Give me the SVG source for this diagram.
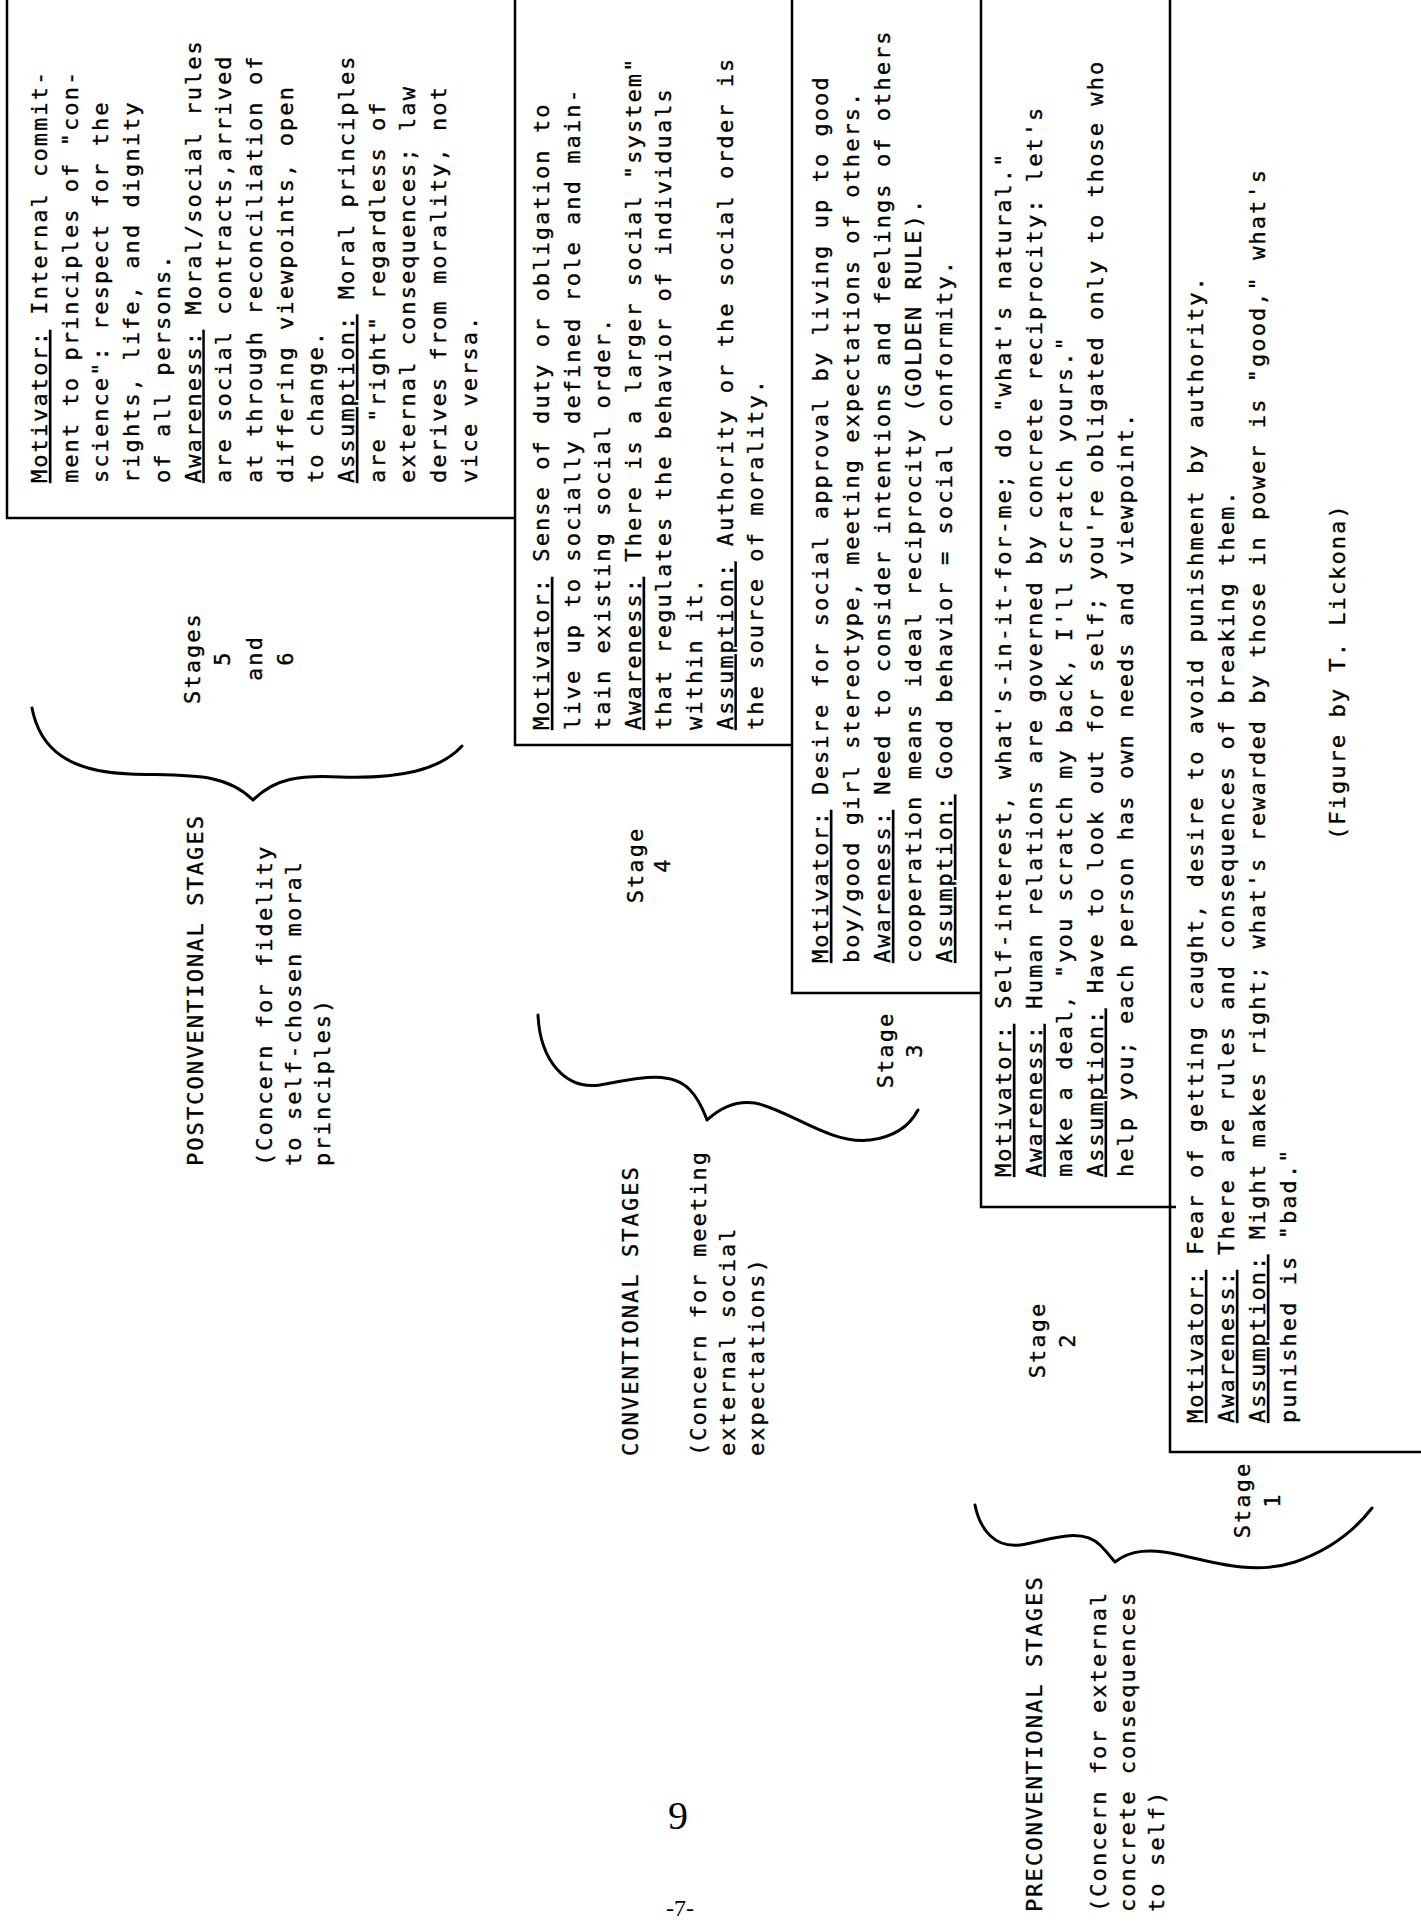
<svg xmlns="http://www.w3.org/2000/svg" width="1421" height="1923" viewBox="0 0 1421 1923" xml:space="preserve">
<style>
.t { font-family: "DejaVu Sans Mono", "Liberation Mono", monospace; font-size: 22px; letter-spacing: 2.06px; fill: #000; stroke: #000; stroke-width: 0.35; }
.m { text-anchor: middle; }
.u { text-decoration: underline; }
.ln { fill: none; stroke: #000; stroke-width: 2.5; }
.br { fill: none; stroke: #000; stroke-width: 3; stroke-linecap: round; stroke-linejoin: round; }
.pg { font-family: "Liberation Serif", serif; fill: #000; text-anchor: middle; }
</style>
<rect width="1421" height="1923" fill="#fff"/>
<g id="frame">
<path class="ln" d="M7 0 V518 H515"/>
<path class="ln" d="M515 0 V745 H792"/>
<path class="ln" d="M792 0 V993 H981"/>
<path class="ln" d="M981 0 V1207 H1176"/>
<path class="ln" d="M1170 0 V1452 H1421"/>
</g>
<g id="connectors">
<path class="br" d="M32 708 C40 750 70 772 130 774 C190 776 225 772 253 800 C275 778 300 775 340 777 C400 779 440 770 462 746"/>
<path class="br" d="M538 1015 C540 1060 565 1090 600 1085 C630 1080 670 1068 690 1090 C700 1100 705 1115 707 1120 C720 1108 735 1100 755 1103 C790 1110 830 1145 870 1140 C895 1137 910 1125 918 1110"/>
<path class="br" d="M975 1505 C980 1530 995 1548 1020 1545 C1045 1542 1080 1525 1100 1545 C1108 1553 1113 1560 1115 1562 C1130 1550 1150 1548 1180 1555 C1215 1563 1255 1575 1295 1562 C1330 1550 1355 1530 1372 1508"/>
</g>
<g transform="matrix(0,-1,1,0,0,1923)">
<g id="stage56">
<text class="t" x="1440" y="47"><tspan class="u">Motivator:</tspan>  Internal commit-</text>
<text class="t" x="1440" y="77.7">  ment to principles of "con-</text>
<text class="t" x="1440" y="108.4">  science":  respect for the</text>
<text class="t" x="1440" y="139.1">  rights, life, and dignity</text>
<text class="t" x="1440" y="169.8">  of all persons.</text>
<text class="t" x="1440" y="200.5"><tspan class="u">Awareness:</tspan>  Moral/social rules</text>
<text class="t" x="1440" y="231.2">  are social contracts,arrived</text>
<text class="t" x="1440" y="261.9">  at through reconciliation of</text>
<text class="t" x="1440" y="292.6">  differing   viewpoints, open</text>
<text class="t" x="1440" y="323.3">  to change.</text>
<text class="t" x="1440" y="354"><tspan class="u">Assumption:</tspan>  Moral principles</text>
<text class="t" x="1440" y="384.7">  are "right" regardless of</text>
<text class="t" x="1440" y="415.4">  external consequences; law</text>
<text class="t" x="1440" y="446.1">  derives from morality, not</text>
<text class="t" x="1440" y="476.8">  vice versa.</text>
<text class="t m" x="1265" y="200">Stages</text>
<text class="t m" x="1265" y="230">5</text>
<text class="t m" x="1265" y="262">and</text>
<text class="t m" x="1265" y="293">6</text>
</g>
<g id="stage4">
<text class="t" x="1193" y="549"><tspan class="u">Motivator:</tspan>  Sense of duty or obligation to</text>
<text class="t" x="1193" y="579.6">  live up to socially defined role and main-</text>
<text class="t" x="1193" y="610.2">  tain existing social order.</text>
<text class="t" x="1193" y="640.8"><tspan class="u">Awareness:</tspan>  There is a larger social "system"</text>
<text class="t" x="1193" y="671.4">  that regulates the behavior of individuals</text>
<text class="t" x="1193" y="702">   within it.</text>
<text class="t" x="1193" y="732.6"><tspan class="u">Assumption:</tspan>  Authority or the social order is</text>
<text class="t" x="1193" y="763.2">  the source of morality.</text>
<text class="t m" x="1058" y="643">Stage</text>
<text class="t m" x="1058" y="670">4</text>
</g>
<g id="stage3">
<text class="t" x="960" y="828"><tspan class="u">Motivator:</tspan>  Desire for social approval by living up to good</text>
<text class="t" x="960" y="859">  boy/good girl stereotype, meeting expectations of others.</text>
<text class="t" x="960" y="890"><tspan class="u">Awareness:</tspan>   Need to consider intentions and feelings of others</text>
<text class="t" x="960" y="921">    cooperation means ideal reciprocity (GOLDEN RULE).</text>
<text class="t" x="960" y="952">  <tspan class="u">Assumption:</tspan>  Good behavior = social conformity.</text>
<text class="t m" x="873" y="893">Stage</text>
<text class="t m" x="873" y="922">3</text>
</g>
<g id="stage2">
<text class="t" x="746" y="1011"><tspan class="u">Motivator:</tspan>  Self-interest, what's-in-it-for-me; do "what's natural."</text>
<text class="t" x="746" y="1041.6"><tspan class="u">Awareness:</tspan>  Human relations are governed by concrete reciprocity:  let's</text>
<text class="t" x="746" y="1072.2">  make a deal, "you scratch my back, I'll scratch yours."</text>
<text class="t" x="746" y="1102.8"><tspan class="u">Assumption:</tspan>  Have to look out for self; you're obligated only to those who</text>
<text class="t" x="746" y="1133.4">  help you; each person has own needs and viewpoint.</text>
<text class="t m" x="583" y="1045">Stage</text>
<text class="t m" x="583" y="1075">2</text>
</g>
<g id="stage1">
<text class="t" x="500" y="1203"><tspan class="u">Motivator:</tspan>   Fear of getting caught, desire to avoid punishment by authority.</text>
<text class="t" x="500" y="1234"><tspan class="u">Awareness:</tspan>   There are rules and consequences of breaking them.</text>
<text class="t" x="500" y="1265"><tspan class="u">Assumption:</tspan>  Might makes right; what's rewarded by those in power is "good," what's</text>
<text class="t" x="500" y="1296">  punished is "bad."</text>
<text class="t m" x="423" y="1250">Stage</text>
<text class="t m" x="423" y="1280">1</text>
</g>
<g id="postconventional">
<text class="t" x="757" y="203">POSTCONVENTIONAL STAGES</text>
<text class="t" x="757" y="272">(Concern for fidelity</text>
<text class="t" x="757" y="301"> to self-chosen moral</text>
<text class="t" x="757" y="330"> principles)</text>
</g>
<g id="conventional">
<text class="t" x="467" y="638">CONVENTIONAL STAGES</text>
<text class="t" x="467" y="706">(Concern for meeting</text>
<text class="t" x="467" y="735"> external social</text>
<text class="t" x="467" y="764"> expectations)</text>
</g>
<g id="preconventional">
<text class="t" x="11" y="1042">PRECONVENTIONAL STAGES</text>
<text class="t" x="11" y="1106">(Concern for external</text>
<text class="t" x="11" y="1135"> concrete consequences</text>
<text class="t" x="11" y="1164"> to self)</text>
</g>
<g id="caption">
<text class="t" x="1083" y="1345">(Figure by T. Lickona)</text>
</g>
</g>
<g id="page-numbers">
<text class="pg" x="678" y="1829" font-size="40">9</text>
<text class="pg" x="680" y="1916" font-size="24">-7-</text>
</g>
</svg>
